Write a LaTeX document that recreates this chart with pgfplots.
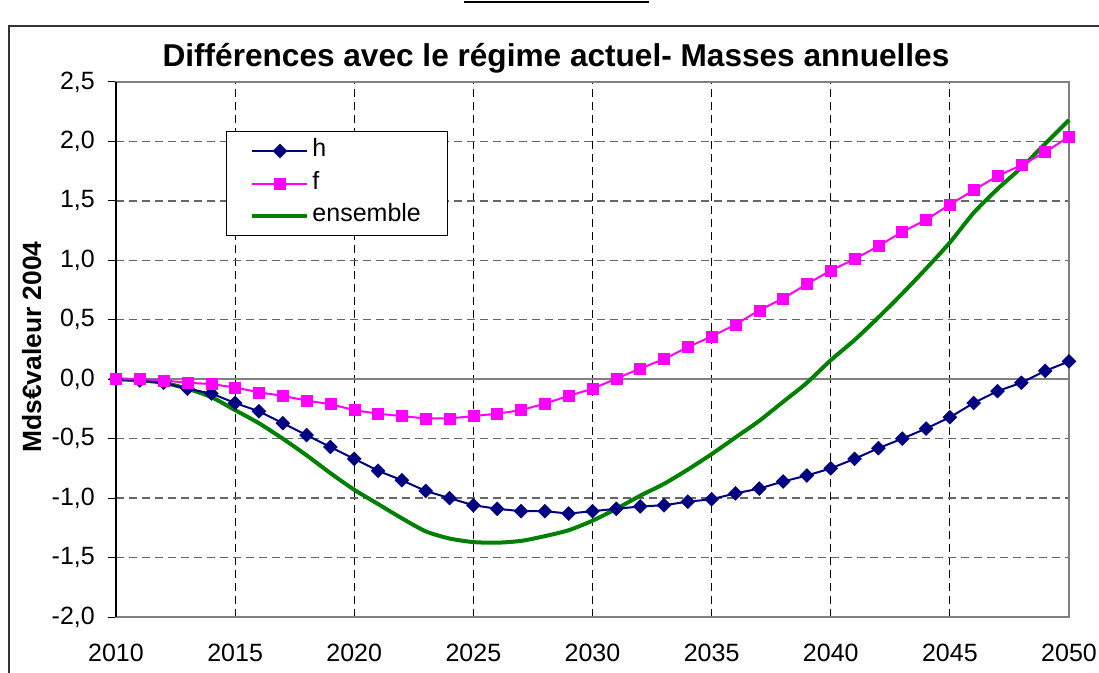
\documentclass[border=0pt]{standalone}
\usepackage{fontspec}
\setmainfont{Liberation Sans}
\usepackage{pgfplots}
\usepackage{pgfplotstable}
\pgfplotsset{compat=1.18}
\definecolor{hblue}{RGB}{0,0,128}
\definecolor{fpink}{RGB}{255,0,255}
\definecolor{egreen}{RGB}{0,128,0}
\definecolor{axgray}{RGB}{128,128,128}

% year, h, f, ensemble (Mds EUR valeur 2004)
\pgfplotstableread{
year h f ens
2010 0.00 0.00 0.00
2011 -0.01 0.00 -0.01
2012 -0.03 -0.01 -0.03
2013 -0.08 -0.03 -0.08
2014 -0.12 -0.04 -0.15
2015 -0.20 -0.07 -0.26
2016 -0.27 -0.11 -0.37
2017 -0.37 -0.14 -0.50
2018 -0.47 -0.18 -0.64
2019 -0.57 -0.21 -0.79
2020 -0.67 -0.26 -0.93
2021 -0.77 -0.29 -1.05
2022 -0.85 -0.31 -1.17
2023 -0.94 -0.33 -1.28
2024 -1.00 -0.33 -1.34
2025 -1.06 -0.31 -1.37
2026 -1.09 -0.29 -1.375
2027 -1.11 -0.26 -1.36
2028 -1.11 -0.205 -1.32
2029 -1.13 -0.14 -1.27
2030 -1.11 -0.08 -1.19
2031 -1.09 0.005 -1.09
2032 -1.07 0.09 -0.98
2033 -1.06 0.17 -0.88
2034 -1.03 0.27 -0.76
2035 -1.01 0.36 -0.63
2036 -0.96 0.46 -0.49
2037 -0.92 0.58 -0.35
2038 -0.86 0.68 -0.19
2039 -0.81 0.80 -0.03
2040 -0.75 0.915 0.16
2041 -0.67 1.01 0.33
2042 -0.58 1.12 0.52
2043 -0.50 1.24 0.72
2044 -0.415 1.34 0.93
2045 -0.32 1.47 1.15
2046 -0.20 1.59 1.40
2047 -0.10 1.71 1.60
2048 -0.03 1.80 1.78
2049 0.07 1.91 1.98
2050 0.15 2.04 2.18
}\masses

\begin{document}
\begin{tikzpicture}[x=1pt,y=1pt]
\useasboundingbox (0,0) rectangle (1099,672);
% outer chart frame, cut by the page
\draw[line width=2pt, black!80] (9,-5) -- (9,646) -- (1105,646);
\draw[line width=2pt] (464,670) -- (649,670);
\node[font=\bfseries\fontsize{31.6}{36}\selectfont] at (556,614)
  {Différences avec le régime actuel- Masses annuelles};
\node[rotate=90, font=\bfseries\fontsize{26.4}{30}\selectfont] at (31.7,325)
  {Mds€valeur 2004};
\begin{axis}[
  scale only axis, width=953pt, height=535pt,
  at={(116pt,55pt)}, anchor=south west,
  xmin=2010, xmax=2050, ymin=-2, ymax=2.5,
  xtick={2010,2015,...,2050},
  ytick={-2,-1.5,...,2.5},
  clip=false,
  grid=major,
  x grid style={black, dash pattern=on 8pt off 5pt, line width=1pt},
  y grid style={black!60, dash pattern=on 8pt off 5pt, line width=1.3pt},
  axis line style={axgray, line width=2pt},
  tick align=outside, major tick length=8pt,
  ytick pos=left,
  x tick style={draw=none},
  y tick style={black, line width=1pt},
  /pgf/number format/assume math mode=true,
  tick label style={font=\fontsize{25}{30}\selectfont},
  xticklabel style={anchor=north, inner sep=0pt, yshift=-19pt,
    /pgf/number format/1000 sep={}},
  yticklabel style={anchor=east, inner sep=0pt, xshift=-13pt,
    /pgf/number format/.cd, use comma, fixed, fixed zerofill, precision=1},
  legend style={at={(0.1154,0.9084)}, anchor=north west, draw=black,
    line width=1pt, fill=white, font=\fontsize{25}{30}\selectfont,
    inner xsep=24pt, inner ysep=5pt, row sep=3.5pt,
    nodes={inner sep=3pt, text height=17pt, text depth=6pt}},
  legend cell align=left,
  legend image code/.code={\draw[mark repeat=2,mark phase=2]
    plot coordinates {(0pt,0pt)(27.5pt,0pt)(55pt,0pt)};},
]
\draw[axgray, line width=2pt] (axis cs:2010,0) -- (axis cs:2050,0);
\draw[black, line width=1.5pt] (axis cs:2010,-2) -- (axis cs:2010,2.5);
\addplot[egreen, line width=4pt, smooth, tension=0.4, forget plot]
  table[x=year, y=ens] {\masses};
\addplot[hblue, line width=2pt, mark=square*, mark size=4.9pt,
  mark options={rotate=45, solid, line width=0.5pt}]
  table[x=year, y=h] {\masses};
\addplot[fpink, line width=2pt, mark=square*, mark size=5.5pt,
  mark options={solid, line width=0.5pt}]
  table[x=year, y=f] {\masses};
\addlegendimage{egreen, line width=4pt}
\legend{h, f, ensemble}
\end{axis}
\end{tikzpicture}
\end{document}
